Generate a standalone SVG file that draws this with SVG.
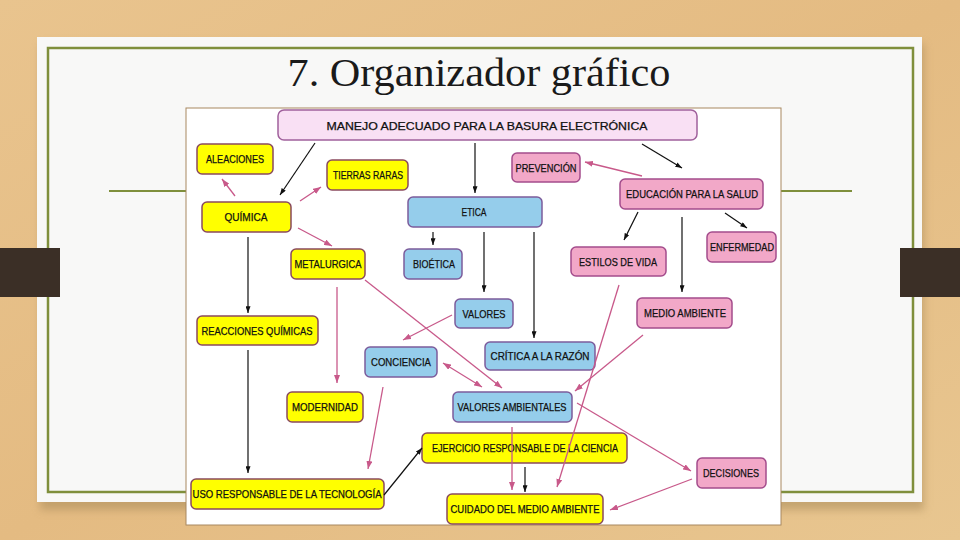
<svg xmlns="http://www.w3.org/2000/svg" width="960" height="540" viewBox="0 0 960 540">
<defs>
<linearGradient id="wood" x1="0" y1="0" x2="1" y2="1">
<stop offset="0" stop-color="#e9c48e"/>
<stop offset="0.5" stop-color="#e4bb82"/>
<stop offset="1" stop-color="#e8c690"/>
</linearGradient>
<filter id="sh" x="-5%" y="-5%" width="110%" height="115%">
<feGaussianBlur stdDeviation="4"/>
</filter>
<marker id="ak" viewBox="0 0 8 6" refX="8" refY="3" markerWidth="7" markerHeight="5" markerUnits="userSpaceOnUse" orient="auto">
<path d="M0,0 L8,3 L0,6 z" fill="#111"/>
</marker>
<marker id="ap" viewBox="0 0 8 6" refX="8" refY="3" markerWidth="8" markerHeight="6" markerUnits="userSpaceOnUse" orient="auto">
<path d="M0,0 L8,3 L0,6 z" fill="#c8598a"/>
</marker>
<marker id="aps" viewBox="0 0 8 6" refX="0" refY="3" markerWidth="8" markerHeight="6" markerUnits="userSpaceOnUse" orient="auto">
<path d="M8,0 L0,3 L8,6 z" fill="#c8598a"/>
</marker>
<style>
.t{font-family:"Liberation Sans",Arial,sans-serif;font-size:10.5px;fill:#111;stroke:#111;stroke-width:0.25;text-anchor:middle;dominant-baseline:central}
.y{fill:#ffff00;stroke:#8a4a5e;stroke-width:1.5}
.b{fill:#95cdeb;stroke:#7c5c9c;stroke-width:1.5}
.p{fill:#f2a8c8;stroke:#a44c8c;stroke-width:1.5}
.m{fill:#f9e0f4;stroke:#a0609c;stroke-width:1.5}
.ck{stroke:#111;stroke-width:1.2;fill:none;marker-end:url(#ak)}
.cp{stroke:#c8598a;stroke-width:1.3;fill:none;marker-end:url(#ap)}
</style>
</defs>

<rect x="0" y="0" width="960" height="540" fill="url(#wood)"/>
<rect x="40" y="44" width="884" height="466" fill="#a88a5a" opacity="0.55" filter="url(#sh)"/>
<rect x="37" y="37" width="885" height="465" fill="#f8f8f7"/>
<rect x="48" y="48" width="865" height="444" fill="none" stroke="#7f8f3c" stroke-width="2.5"/>
<line x1="109" y1="191" x2="852" y2="191" stroke="#7f8f3c" stroke-width="2"/>
<rect x="0" y="248" width="60" height="49" fill="#3b2f26"/>
<rect x="900" y="248" width="60" height="49" fill="#3b2f26"/>

<text x="479" y="86" font-family="Liberation Serif,Times New Roman,serif" font-size="41" fill="#1a1a1a" text-anchor="middle" textLength="383" lengthAdjust="spacingAndGlyphs">7. Organizador gráfico</text>

<rect x="186" y="108" width="595" height="417" fill="#ffffff" stroke="#a88860" stroke-width="1"/>

<g id="n-manejo"><rect class="m" x="278" y="110" width="419" height="30" rx="6"/><text class="t" x="487" y="126" font-size="12.5" textLength="321" lengthAdjust="spacingAndGlyphs">MANEJO ADECUADO PARA LA BASURA ELECTRÓNICA</text></g>
<g id="n-aleaciones"><rect class="y" x="197" y="144" width="76" height="30" rx="5"/><text class="t" x="235" y="159" textLength="58" lengthAdjust="spacingAndGlyphs">ALEACIONES</text></g>
<g id="n-tierras"><rect class="y" x="327" y="160" width="81" height="30" rx="5"/><text class="t" x="368" y="175" textLength="70" lengthAdjust="spacingAndGlyphs">TIERRAS RARAS</text></g>
<g id="n-quimica"><rect class="y" x="202" y="202" width="89" height="30" rx="5"/><text class="t" x="246" y="217" textLength="43" lengthAdjust="spacingAndGlyphs">QUÍMICA</text></g>
<g id="n-etica"><rect class="b" x="408" y="197" width="134" height="30" rx="5"/><text class="t" x="474" y="212" textLength="25" lengthAdjust="spacingAndGlyphs">ETICA</text></g>
<g id="n-prevencion"><rect class="p" x="512" y="153" width="68" height="29" rx="5"/><text class="t" x="546" y="168" textLength="61" lengthAdjust="spacingAndGlyphs">PREVENCIÓN</text></g>
<g id="n-educacion"><rect class="p" x="620" y="179" width="143" height="30" rx="5"/><text class="t" x="692" y="194" textLength="132" lengthAdjust="spacingAndGlyphs">EDUCACIÓN  PARA LA SALUD</text></g>
<g id="n-enfermedad"><rect class="p" x="707" y="232" width="69" height="30" rx="5"/><text class="t" x="742" y="247" textLength="64" lengthAdjust="spacingAndGlyphs">ENFERMEDAD</text></g>
<g id="n-metalurgica"><rect class="y" x="291" y="249" width="74" height="30" rx="5"/><text class="t" x="328" y="264" textLength="67" lengthAdjust="spacingAndGlyphs">METALURGICA</text></g>
<g id="n-bioetica"><rect class="b" x="404" y="249" width="58" height="30" rx="5"/><text class="t" x="434" y="264" textLength="42" lengthAdjust="spacingAndGlyphs">BIOÉTICA</text></g>
<g id="n-estilos"><rect class="p" x="571" y="247" width="95" height="29" rx="5"/><text class="t" x="618" y="262" textLength="78" lengthAdjust="spacingAndGlyphs">ESTILOS DE VIDA</text></g>
<g id="n-valores"><rect class="b" x="455" y="299" width="58" height="29" rx="5"/><text class="t" x="484" y="314" textLength="43" lengthAdjust="spacingAndGlyphs">VALORES</text></g>
<g id="n-medio"><rect class="p" x="637" y="298" width="95" height="30" rx="5"/><text class="t" x="685" y="313" textLength="82" lengthAdjust="spacingAndGlyphs">MEDIO AMBIENTE</text></g>
<g id="n-reacciones"><rect class="y" x="197" y="316" width="121" height="29" rx="5"/><text class="t" x="257" y="331" textLength="111" lengthAdjust="spacingAndGlyphs">REACCIONES QUÍMICAS</text></g>
<g id="n-conciencia"><rect class="b" x="365" y="347" width="72" height="30" rx="5"/><text class="t" x="401" y="362" textLength="60" lengthAdjust="spacingAndGlyphs">CONCIENCIA</text></g>
<g id="n-critica"><rect class="b" x="485" y="342" width="110" height="28" rx="5"/><text class="t" x="540" y="356" textLength="99" lengthAdjust="spacingAndGlyphs">CRÍTICA A LA RAZÓN</text></g>
<g id="n-modernidad"><rect class="y" x="287" y="392" width="76" height="30" rx="5"/><text class="t" x="325" y="407" textLength="66" lengthAdjust="spacingAndGlyphs">MODERNIDAD</text></g>
<g id="n-valamb"><rect class="b" x="453" y="392" width="119" height="30" rx="5"/><text class="t" x="512" y="407" textLength="109" lengthAdjust="spacingAndGlyphs">VALORES AMBIENTALES</text></g>
<g id="n-ejercicio"><rect class="y" x="422" y="433" width="205" height="30" rx="5"/><text class="t" x="525" y="448" textLength="186" lengthAdjust="spacingAndGlyphs">EJERCICIO RESPONSABLE DE LA CIENCIA</text></g>
<g id="n-decisiones"><rect class="p" x="697" y="458" width="69" height="30" rx="5"/><text class="t" x="731" y="473" textLength="56" lengthAdjust="spacingAndGlyphs">DECISIONES</text></g>
<g id="n-uso"><rect class="y" x="191" y="479" width="193" height="30" rx="5"/><text class="t" x="287" y="494" textLength="189" lengthAdjust="spacingAndGlyphs">USO RESPONSABLE DE LA TECNOLOGÍA</text></g>
<g id="n-cuidado"><rect class="y" x="447" y="494" width="156" height="30" rx="5"/><text class="t" x="525" y="509" textLength="149" lengthAdjust="spacingAndGlyphs">CUIDADO  DEL MEDIO AMBIENTE</text></g>

<g id="connectors">
<path class="ck" d="M315,143 L280,195"/>
<path class="ck" d="M475,143 L475,193"/>
<path class="ck" d="M642,144 L682,168"/>
<path class="ck" d="M248,237 L248,313"/>
<path class="ck" d="M248,350 L248,473"/>
<path class="ck" d="M433,232 L433,245"/>
<path class="ck" d="M484,232 L484,292"/>
<path class="ck" d="M534,232 L534,338"/>
<path class="ck" d="M638,212 L624,240"/>
<path class="ck" d="M682,217 L682,292"/>
<path class="ck" d="M725,213 L747,228"/>
<path class="ck" d="M525,467 L525,492"/>
<path class="ck" d="M384,495 L422,448"/>
<path class="cp" d="M235,196 L222,179"/>
<path class="cp" d="M300,201 L321,187"/>
<path class="cp" d="M298,228 L332,246"/>
<path class="cp" d="M642,176 L585,162"/>
<path class="cp" d="M337,287 L337,383"/>
<path class="cp" d="M365,280 L502,388"/>
<path class="cp" d="M452,315 L403,340"/>
<path class="cp" d="M443,363 L482,387" marker-start="url(#aps)"/>
<path class="cp" d="M383,387 L368,469"/>
<path class="cp" d="M619,285 L557,487"/>
<path class="cp" d="M643,335 L575,391"/>
<path class="cp" d="M577,403 L691,471"/>
<path class="cp" d="M692,479 L610,510"/>
<path class="cp" d="M512,427 L512,490" stroke-width="2"/>
</g>
</svg>
